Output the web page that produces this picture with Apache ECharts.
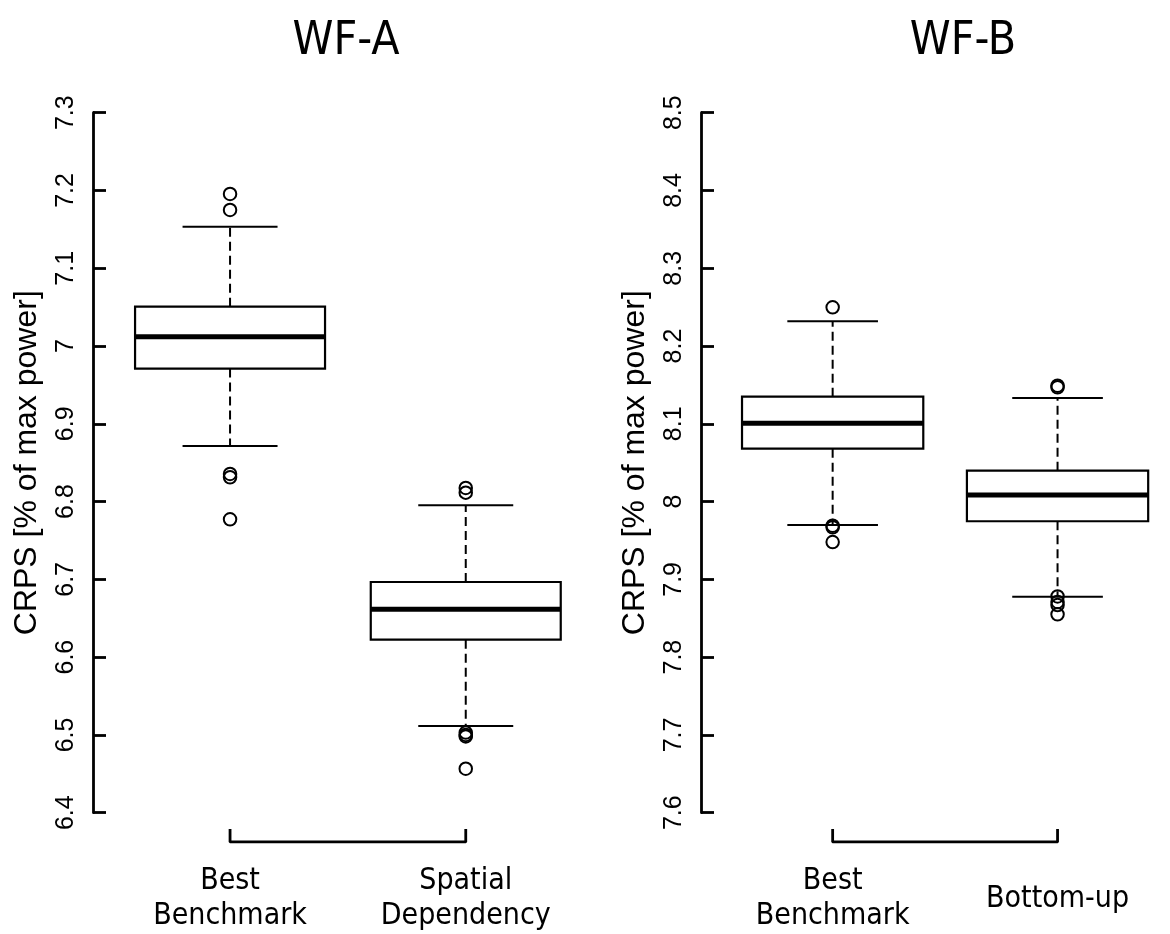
<!DOCTYPE html>
<html>
<head>
<meta charset="utf-8">
<script src="https://cdn.jsdelivr.net/npm/echarts@6/dist/echarts.min.js"></script>
<style>
html,body{margin:0;padding:0;background:#fff;}
#main{width:1170px;height:934px;}
</style>
</head>
<body>
<div id="main"></div>
<script>
// ---- data ----
const titles = ['WF-A', 'WF-B'];
const categoriesA = ['Best\nBenchmark', 'Spatial\nDependency'];
const categoriesB = ['Best\nBenchmark', 'Bottom-up'];
const yTicksA = [6.4, 6.5, 6.6, 6.7, 6.8, 6.9, 7.0, 7.1, 7.2, 7.3];
const yTicksB = [7.6, 7.7, 7.8, 7.9, 8.0, 8.1, 8.2, 8.3, 8.4, 8.5];
// [lower whisker, Q1, median, Q3, upper whisker]
const statsA_best = [6.8715, 6.971, 7.012, 7.0506, 7.1534];
const statsA_spatial = [6.5115, 6.6224, 6.6615, 6.6966, 6.7952];
const statsB_best = [7.9699, 8.068, 8.1007, 8.1349, 8.2318];
const statsB_bottom = [7.8777, 7.9747, 8.0085, 8.0397, 8.1332];
const outliersA_best = [7.1955, 7.175, 6.8355, 6.8312, 6.7772];
const outliersA_spatial = [6.8175, 6.8115, 6.503, 6.500, 6.498, 6.4566];
const outliersB_best = [8.2498, 7.969, 7.967, 7.948];
const outliersB_bottom = [8.149, 8.147, 7.878, 7.871, 7.867, 7.855];
const yName = 'CRPS [% of max power]';

// ---- styling ----
const INK = '#000';
const labelFont = "'Liberation Sans Narrow', 'DejaVu Sans Condensed', 'Liberation Sans', sans-serif";
const axisFont = "'Liberation Sans', Arial, sans-serif";

function renderBox(params, api) {
  const x = api.value(0);
  const pMin = api.coord([x, api.value(1)]);
  const pQ1 = api.coord([x, api.value(2)]);
  const pMed = api.coord([x, api.value(3)]);
  const pQ3 = api.coord([x, api.value(4)]);
  const pMax = api.coord([x, api.value(5)]);
  const band = api.size([1, 0])[0];
  const half = band * 0.403;
  const cap = half / 2;
  const cx = pMed[0];
  const solid = { stroke: INK, lineWidth: 2, fill: null };
  const dashed = { stroke: INK, lineWidth: 2, lineDash: [9, 5], fill: null };
  return {
    type: 'group',
    children: [
      { type: 'line', shape: { x1: cx, y1: pQ3[1], x2: cx, y2: pMax[1] }, style: dashed },
      { type: 'line', shape: { x1: cx, y1: pQ1[1], x2: cx, y2: pMin[1] }, style: dashed },
      { type: 'line', shape: { x1: cx - cap, y1: pMax[1], x2: cx + cap, y2: pMax[1] }, style: solid },
      { type: 'line', shape: { x1: cx - cap, y1: pMin[1], x2: cx + cap, y2: pMin[1] }, style: solid },
      { type: 'rect', shape: { x: cx - half, y: pQ3[1], width: 2 * half, height: pQ1[1] - pQ3[1] },
        style: { fill: '#fff', stroke: INK, lineWidth: 2.2 } },
      { type: 'line', shape: { x1: cx - half, y1: pMed[1], x2: cx + half, y2: pMed[1] },
        style: { stroke: INK, lineWidth: 5 } }
    ]
  };
}

function boxData(list) {
  return list.map((s, i) => [i].concat(s));
}
function outlierData(list) {
  const out = [];
  list.forEach((arr, i) => arr.forEach(v => out.push([i, v])));
  return out;
}

const gridW = 471.4;
const grids = [
  { left: 112.2, top: 112.7, width: gridW, height: 700 },
  { left: 720.2, top: 112.7, width: gridW, height: 700 },
  { left: 112.2, top: 829, width: gridW, height: 13 },
  { left: 720.2, top: 829, width: gridW, height: 13 }
];

function mainY(gridIndex, ticks) {
  return {
    type: 'value', gridIndex: gridIndex,
    min: ticks[0], max: ticks[ticks.length - 1], interval: 0.1,
    offset: 19.2,
    name: yName, nameLocation: 'middle', nameGap: 50,
    nameTextStyle: { fontFamily: axisFont, fontSize: 32, color: INK },
    axisLine: { show: true, lineStyle: { color: INK, width: 2.8 } },
    axisTick: { show: true, inside: true, length: 13, lineStyle: { color: INK, width: 2.8 } },
    axisLabel: { rotate: 90, margin: 14, fontFamily: axisFont, fontSize: 25, color: INK },
    splitLine: { show: false }
  };
}
function mainX(gridIndex, cats) {
  return {
    type: 'category', gridIndex: gridIndex, data: cats, boundaryGap: true,
    axisLine: { show: false }, axisTick: { show: false }, axisLabel: { show: false },
    splitLine: { show: false }
  };
}
function bracketX(gridIndex, cats) {
  return {
    type: 'category', gridIndex: gridIndex, data: cats, boundaryGap: true,
    axisLine: { show: false }, axisTick: { show: false },
    axisLabel: { show: true, interval: 0, margin: 57, verticalAlign: 'middle',
      fontFamily: labelFont, fontSize: 30, lineHeight: 35, color: INK }
  };
}
function bracketY(gridIndex) {
  return { type: 'value', gridIndex: gridIndex, min: 0, max: 1, show: false };
}

const bracketLine = [[0, 1], [0, 0], [1, 0], [1, 1]];
const outlierStyle = { color: 'rgba(0,0,0,0)', borderColor: INK, borderWidth: 2, opacity: 1 };

const option = {
  backgroundColor: '#fff',
  animation: false,
  title: [
    { text: titles[0], left: 341, top: 14, textAlign: 'center',
      textStyle: { fontFamily: labelFont, fontSize: 46, fontWeight: 'normal', color: INK } },
    { text: titles[1], left: 958, top: 14, textAlign: 'center',
      textStyle: { fontFamily: labelFont, fontSize: 46, fontWeight: 'normal', color: INK } }
  ],
  grid: grids,
  xAxis: [mainX(0, categoriesA), mainX(1, categoriesB), bracketX(2, categoriesA), bracketX(3, categoriesB)],
  yAxis: [mainY(0, yTicksA), mainY(1, yTicksB), bracketY(2), bracketY(3)],
  series: [
    { type: 'custom', xAxisIndex: 0, yAxisIndex: 0, renderItem: renderBox,
      encode: { x: 0, y: [1, 2, 3, 4, 5] }, data: boxData([statsA_best, statsA_spatial]), z: 2 },
    { type: 'custom', xAxisIndex: 1, yAxisIndex: 1, renderItem: renderBox,
      encode: { x: 0, y: [1, 2, 3, 4, 5] }, data: boxData([statsB_best, statsB_bottom]), z: 2 },
    { type: 'scatter', xAxisIndex: 0, yAxisIndex: 0, symbol: 'circle', symbolSize: 12.5,
      itemStyle: outlierStyle, emphasis: { disabled: true },
      data: outlierData([outliersA_best, outliersA_spatial]), z: 3 },
    { type: 'scatter', xAxisIndex: 1, yAxisIndex: 1, symbol: 'circle', symbolSize: 12.5,
      itemStyle: outlierStyle, emphasis: { disabled: true },
      data: outlierData([outliersB_best, outliersB_bottom]), z: 3 },
    { type: 'line', xAxisIndex: 2, yAxisIndex: 2, data: bracketLine, showSymbol: false, symbol: 'none',
      lineStyle: { color: INK, width: 2.8 } },
    { type: 'line', xAxisIndex: 3, yAxisIndex: 3, data: bracketLine, showSymbol: false, symbol: 'none',
      lineStyle: { color: INK, width: 2.8 } }
  ]
};

const chart = echarts.init(document.getElementById('main'), null, { renderer: 'canvas' });
chart.setOption(option);
</script>
</body>
</html>
